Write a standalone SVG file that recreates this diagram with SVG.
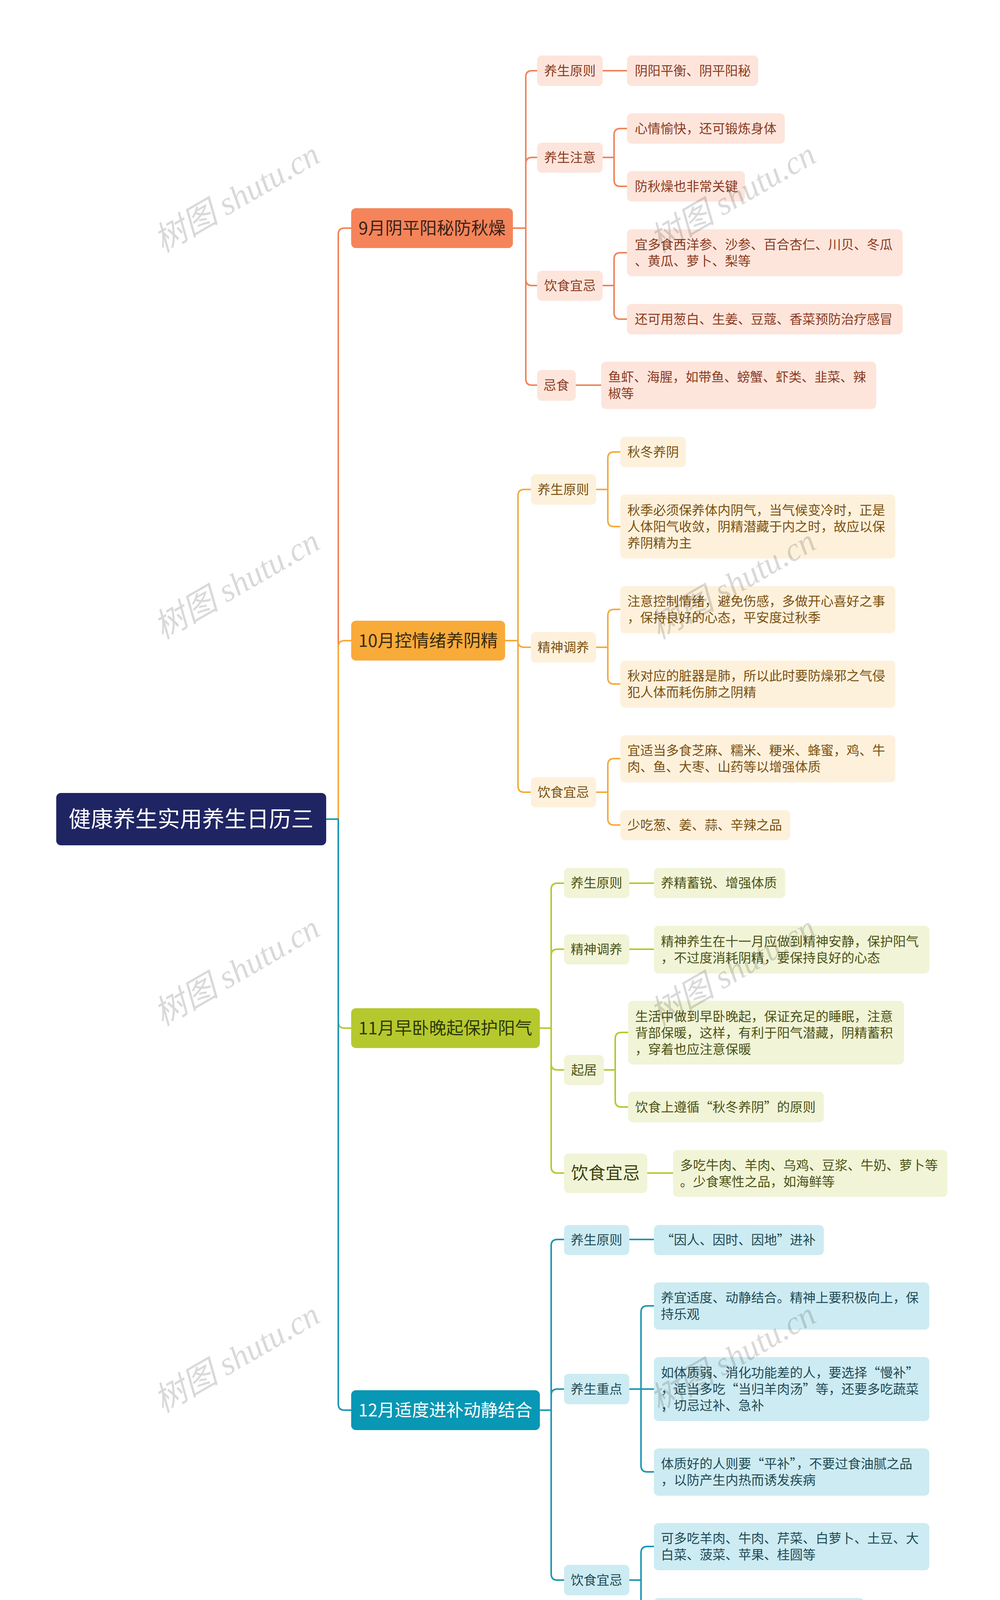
<svg xmlns="http://www.w3.org/2000/svg" width="2560" height="4311" viewBox="0 0 2560 4311">
<style>
text{font-family:"Noto Sans CJK SC","Noto Sans",sans-serif;}
.lf{font-size:33px;}
.lb{font-size:33px;text-anchor:middle;}
.mo{font-size:44px;}
.c{fill:none;stroke-width:4;}
.o{stroke:#F0845A}.y{stroke:#F5AB3A}.g{stroke:#B5C92E}.t{stroke:#1A97B4}
.wm{font-family:"Liberation Serif","Noto Sans CJK SC",serif;font-style:italic;font-size:84px;fill:#000;fill-opacity:0.15;}
</style>
<rect width="2560" height="4311" fill="#fff"/>
<g id="connectors">
<path class="c o" d="M835,2097 H866 V600 Q866,584 882,584 H899"/>
<path class="c y" d="M835,2097 H866 V1656 Q866,1640 882,1640 H899"/>
<path class="c g" d="M835,2097 H866 V2616 Q866,2632 882,2632 H899"/>
<path class="c t" d="M835,2097 H866 V3594 Q866,3610 882,3610 H899"/>
<path class="c o" d="M1313,584 H1346 V197 Q1346,181 1362,181 H1375"/>
<path class="c o" d="M1313,584 H1346 V419 Q1346,403 1362,403 H1375"/>
<path class="c o" d="M1313,584 H1346 V715 Q1346,731 1362,731 H1375"/>
<path class="c o" d="M1313,584 H1346 V970 Q1346,986 1362,986 H1375"/>
<path class="c o" d="M1543,181 H1605"/>
<path class="c o" d="M1543,403 H1572 V345 Q1572,329 1588,329 H1605"/>
<path class="c o" d="M1543,403 H1572 V461 Q1572,477 1588,477 H1605"/>
<path class="c o" d="M1543,731 H1572 V663 Q1572,647 1588,647 H1605"/>
<path class="c o" d="M1543,731 H1572 V801 Q1572,817 1588,817 H1605"/>
<path class="c o" d="M1474,986 H1539"/>
<path class="c y" d="M1293,1640 H1326 V1269 Q1326,1253 1342,1253 H1359"/>
<path class="c y" d="M1293,1640 H1326 V1641 Q1326,1657 1342,1657 H1359"/>
<path class="c y" d="M1293,1640 H1326 V2012 Q1326,2028 1342,2028 H1359"/>
<path class="c y" d="M1526,1253 H1556 V1173 Q1556,1157 1572,1157 H1588"/>
<path class="c y" d="M1526,1253 H1556 V1332 Q1556,1348 1572,1348 H1588"/>
<path class="c y" d="M1526,1657 H1556 V1576 Q1556,1560 1572,1560 H1588"/>
<path class="c y" d="M1526,1657 H1556 V1735 Q1556,1751 1572,1751 H1588"/>
<path class="c y" d="M1526,2028 H1556 V1958 Q1556,1942 1572,1942 H1588"/>
<path class="c y" d="M1526,2028 H1556 V2096 Q1556,2112 1572,2112 H1588"/>
<path class="c g" d="M1382,2632 H1411 V2277 Q1411,2261 1427,2261 H1444"/>
<path class="c g" d="M1382,2632 H1411 V2446 Q1411,2430 1427,2430 H1444"/>
<path class="c g" d="M1382,2632 H1411 V2723 Q1411,2739 1427,2739 H1444"/>
<path class="c g" d="M1382,2632 H1411 V2987 Q1411,3003 1427,3003 H1444"/>
<path class="c g" d="M1611,2261 H1674"/>
<path class="c g" d="M1611,2430 H1674"/>
<path class="c g" d="M1546,2739 H1575 V2659 Q1575,2643 1591,2643 H1608"/>
<path class="c g" d="M1546,2739 H1575 V2818 Q1575,2834 1591,2834 H1608"/>
<path class="c g" d="M1657,3003 H1723"/>
<path class="c t" d="M1382,3610 H1411 V3189 Q1411,3173 1427,3173 H1444"/>
<path class="c t" d="M1382,3610 H1411 V3572 Q1411,3556 1427,3556 H1444"/>
<path class="c t" d="M1382,3610 H1411 V4029 Q1411,4045 1427,4045 H1444"/>
<path class="c t" d="M1611,3173 H1674"/>
<path class="c t" d="M1611,3556 H1641 V3359 Q1641,3343 1657,3343 H1674"/>
<path class="c t" d="M1611,3556 H1674"/>
<path class="c t" d="M1611,3556 H1641 V3752 Q1641,3768 1657,3768 H1674"/>
<path class="c t" d="M1611,4045 H1641 V3975 Q1641,3959 1657,3959 H1674"/>
<path class="c t" d="M1611,4045 H1641 V4114 Q1641,4130 1657,4130 H1674"/>
</g>
<g id="root"><rect x="144" y="2030" width="691" height="134" rx="12" fill="#1F2563"/><text x="489" y="2117" font-size="57" fill="#fff" text-anchor="middle">健康养生实用养生日历三</text></g>
<g id="m9"><rect x="899" y="533" width="414" height="102" rx="12" fill="#F5845A"/><text class="mo" x="1106" y="600" text-anchor="middle" fill="#3a2218">9月阴平阳秘防秋燥</text></g>
<g id="m9a" fill="#FDE5DC"><rect x="1375" y="142" width="168" height="78" rx="12"/><text class="lb" x="1459" y="193" fill="#8B3A1E">养生原则</text></g>
<g id="m9a1"><rect x="1605" y="142" width="336" height="78" rx="12" fill="#FDE5DC"/><text class="lf" x="1625" y="193" fill="#8B3A1E">阴阳平衡、阴平阳秘</text></g>
<g id="m9b"><rect x="1375" y="365" width="168" height="77" rx="12" fill="#FDE5DC"/><text class="lb" x="1459" y="415" fill="#8B3A1E">养生注意</text></g>
<g id="m9b1"><rect x="1605" y="290" width="404" height="78" rx="12" fill="#FDE5DC"/><text class="lf" x="1625" y="341" fill="#8B3A1E">心情愉快，还可锻炼身体</text></g>
<g id="m9b2"><rect x="1605" y="438" width="302" height="78" rx="12" fill="#FDE5DC"/><text class="lf" x="1625" y="489" fill="#8B3A1E">防秋燥也非常关键</text></g>
<g id="m9c"><rect x="1375" y="693" width="168" height="77" rx="12" fill="#FDE5DC"/><text class="lb" x="1459" y="743" fill="#8B3A1E">饮食宜忌</text></g>
<g id="m9c1"><rect x="1605" y="587" width="706" height="120" rx="12" fill="#FDE5DC"/><text class="lf" x="1625" y="638" fill="#8B3A1E">宜多食西洋参、沙参、百合杏仁、川贝、冬瓜</text><text class="lf" x="1625" y="680" fill="#8B3A1E">、黄瓜、萝卜、梨等</text></g>
<g id="m9c2"><rect x="1605" y="778" width="706" height="78" rx="12" fill="#FDE5DC"/><text class="lf" x="1625" y="829" fill="#8B3A1E">还可用葱白、生姜、豆蔻、香菜预防治疗感冒</text></g>
<g id="m9d"><rect x="1375" y="947" width="99" height="79" rx="12" fill="#FDE5DC"/><text class="lb" x="1424" y="998" fill="#8B3A1E">忌食</text></g>
<g id="m9d1"><rect x="1539" y="926" width="704" height="121" rx="12" fill="#FDE5DC"/><text class="lf" x="1557" y="977" fill="#8B3A1E">鱼虾、海腥，如带鱼、螃蟹、虾类、韭菜、辣</text><text class="lf" x="1557" y="1019" fill="#8B3A1E">椒等</text></g>

<g id="m10"><rect x="899" y="1589" width="394" height="102" rx="12" fill="#F9AB3A"/><text class="mo" x="1096" y="1656" text-anchor="middle" fill="#3a2a10">10月控情绪养阴精</text></g>
<g id="m10a"><rect x="1359" y="1214" width="167" height="78" rx="12" fill="#FEF1DC"/><text class="lb" x="1442" y="1265" fill="#7A5010">养生原则</text></g>
<g id="m10a1"><rect x="1588" y="1118" width="168" height="78" rx="12" fill="#FEF1DC"/><text class="lf" x="1606" y="1169" fill="#7A5010">秋冬养阴</text></g>
<g id="m10a2"><rect x="1588" y="1266" width="704" height="164" rx="12" fill="#FEF1DC"/><text class="lf" x="1606" y="1318" fill="#7A5010">秋季必须保养体内阴气，当气候变冷时，正是</text><text class="lf" x="1606" y="1360" fill="#7A5010">人体阳气收敛，阴精潜藏于内之时，故应以保</text><text class="lf" x="1606" y="1402" fill="#7A5010">养阴精为主</text></g>
<g id="m10b"><rect x="1359" y="1618" width="167" height="78" rx="12" fill="#FEF1DC"/><text class="lb" x="1442" y="1669" fill="#7A5010">精神调养</text></g>
<g id="m10b1"><rect x="1588" y="1500" width="704" height="121" rx="12" fill="#FEF1DC"/><text class="lf" x="1606" y="1551" fill="#7A5010">注意控制情绪，避免伤感，多做开心喜好之事</text><text class="lf" x="1606" y="1593" fill="#7A5010">，保持良好的心态，平安度过秋季</text></g>
<g id="m10b2"><rect x="1588" y="1691" width="704" height="121" rx="12" fill="#FEF1DC"/><text class="lf" x="1606" y="1742" fill="#7A5010">秋对应的脏器是肺，所以此时要防燥邪之气侵</text><text class="lf" x="1606" y="1784" fill="#7A5010">犯人体而耗伤肺之阴精</text></g>
<g id="m10c"><rect x="1359" y="1989" width="167" height="78" rx="12" fill="#FEF1DC"/><text class="lb" x="1442" y="2040" fill="#7A5010">饮食宜忌</text></g>
<g id="m10c1"><rect x="1588" y="1882" width="704" height="121" rx="12" fill="#FEF1DC"/><text class="lf" x="1606" y="1933" fill="#7A5010">宜适当多食芝麻、糯米、粳米、蜂蜜，鸡、牛</text><text class="lf" x="1606" y="1975" fill="#7A5010">肉、鱼、大枣、山药等以增强体质</text></g>
<g id="m10c2"><rect x="1588" y="2074" width="435" height="77" rx="12" fill="#FEF1DC"/><text class="lf" x="1606" y="2124" fill="#7A5010">少吃葱、姜、蒜、辛辣之品</text></g>

<g id="m11"><rect x="899" y="2581" width="483" height="102" rx="12" fill="#B5C92E"/><text class="mo" x="1140" y="2648" text-anchor="middle" fill="#2f3a0a">11月早卧晚起保护阳气</text></g>
<g id="m11a"><rect x="1444" y="2222" width="167" height="77" rx="12" fill="#F1F4D6"/><text class="lb" x="1527" y="2272" fill="#4a5218">养生原则</text></g>
<g id="m11a1"><rect x="1674" y="2222" width="336" height="77" rx="12" fill="#F1F4D6"/><text class="lf" x="1692" y="2272" fill="#4a5218">养精蓄锐、增强体质</text></g>
<g id="m11b"><rect x="1444" y="2392" width="167" height="77" rx="12" fill="#F1F4D6"/><text class="lb" x="1527" y="2442" fill="#4a5218">精神调养</text></g>
<g id="m11b1"><rect x="1674" y="2370" width="705" height="122" rx="12" fill="#F1F4D6"/><text class="lf" x="1692" y="2422" fill="#4a5218">精神养生在十一月应做到精神安静，保护阳气</text><text class="lf" x="1692" y="2464" fill="#4a5218">，不过度消耗阴精，要保持良好的心态</text></g>
<g id="m11c"><rect x="1444" y="2701" width="102" height="77" rx="12" fill="#F1F4D6"/><text class="lb" x="1495" y="2751" fill="#4a5218">起居</text></g>
<g id="m11c1"><rect x="1608" y="2562" width="706" height="163" rx="12" fill="#F1F4D6"/><text class="lf" x="1626" y="2614" fill="#4a5218">生活中做到早卧晚起，保证充足的睡眠，注意</text><text class="lf" x="1626" y="2656" fill="#4a5218">背部保暖，这样，有利于阳气潜藏，阴精蓄积</text><text class="lf" x="1626" y="2698" fill="#4a5218">，穿着也应注意保暖</text></g>
<g id="m11c2"><rect x="1608" y="2795" width="501" height="78" rx="12" fill="#F1F4D6"/><text class="lf" x="1626" y="2846" fill="#4a5218">饮食上遵循“秋冬养阴”的原则</text></g>
<g id="m11d"><rect x="1444" y="2953" width="213" height="101" rx="12" fill="#F1F4D6"/><text x="1550" y="3019" font-size="44" text-anchor="middle" fill="#3a4210">饮食宜忌</text></g>
<g id="m11d1"><rect x="1723" y="2944" width="702" height="120" rx="12" fill="#F1F4D6"/><text class="lf" x="1741" y="2995" fill="#4a5218">多吃牛肉、羊肉、乌鸡、豆浆、牛奶、萝卜等</text><text class="lf" x="1741" y="3037" fill="#4a5218">。少食寒性之品，如海鲜等</text></g>

<g id="m12"><rect x="899" y="3559" width="483" height="102" rx="12" fill="#0897B4"/><text class="mo" x="1140" y="3626" text-anchor="middle" fill="#fff">12月适度进补动静结合</text></g>
<g id="m12a"><rect x="1444" y="3136" width="167" height="77" rx="12" fill="#CDEBF2"/><text class="lb" x="1527" y="3186" fill="#1f4a55">养生原则</text></g>
<g id="m12a1"><rect x="1674" y="3136" width="435" height="77" rx="12" fill="#CDEBF2"/><text class="lf" x="1692" y="3186" fill="#1f4a55">“因人、因时、因地”进补</text></g>
<g id="m12b"><rect x="1444" y="3517" width="167" height="78" rx="12" fill="#CDEBF2"/><text class="lb" x="1527" y="3568" fill="#1f4a55">养生重点</text></g>
<g id="m12b1"><rect x="1674" y="3283" width="705" height="121" rx="12" fill="#CDEBF2"/><text class="lf" x="1692" y="3334" fill="#1f4a55">养宜适度、动静结合。精神上要积极向上，保</text><text class="lf" x="1692" y="3376" fill="#1f4a55">持乐观</text></g>
<g id="m12b2"><rect x="1674" y="3474" width="705" height="164" rx="12" fill="#CDEBF2"/><text class="lf" x="1692" y="3526" fill="#1f4a55">如体质弱、消化功能差的人，要选择“慢补”</text><text class="lf" x="1692" y="3568" fill="#1f4a55">，适当多吃“当归羊肉汤”等，还要多吃蔬菜</text><text class="lf" x="1692" y="3610" fill="#1f4a55">，切忌过补、急补</text></g>
<g id="m12b3"><rect x="1674" y="3708" width="705" height="121" rx="12" fill="#CDEBF2"/><text class="lf" x="1692" y="3759" fill="#1f4a55">体质好的人则要“平补”，不要过食油腻之品</text><text class="lf" x="1692" y="3801" fill="#1f4a55">，以防产生内热而诱发疾病</text></g>
<g id="m12c"><rect x="1444" y="4006" width="167" height="78" rx="12" fill="#CDEBF2"/><text class="lb" x="1527" y="4057" fill="#1f4a55">饮食宜忌</text></g>
<g id="m12c1"><rect x="1674" y="3899" width="705" height="121" rx="12" fill="#CDEBF2"/><text class="lf" x="1692" y="3950" fill="#1f4a55">可多吃羊肉、牛肉、芹菜、白萝卜、土豆、大</text><text class="lf" x="1692" y="3992" fill="#1f4a55">白菜、菠菜、苹果、桂圆等</text></g>
<g id="m12c2"><rect x="1674" y="4091" width="538" height="78" rx="12" fill="#CDEBF2"/><text class="lf" x="1692" y="4142" fill="#1f4a55">忌生冷，如海鲜等大寒之品及冷饮</text></g>

<g id="watermarks">
<text class="wm" transform="translate(620,530) rotate(-30)" text-anchor="middle">树图 shutu.cn</text>
<text class="wm" transform="translate(1890,530) rotate(-30)" text-anchor="middle">树图 shutu.cn</text>
<text class="wm" transform="translate(620,1520) rotate(-30)" text-anchor="middle">树图 shutu.cn</text>
<text class="wm" transform="translate(1890,1520) rotate(-30)" text-anchor="middle">树图 shutu.cn</text>
<text class="wm" transform="translate(620,2510) rotate(-30)" text-anchor="middle">树图 shutu.cn</text>
<text class="wm" transform="translate(1890,2510) rotate(-30)" text-anchor="middle">树图 shutu.cn</text>
<text class="wm" transform="translate(620,3500) rotate(-30)" text-anchor="middle">树图 shutu.cn</text>
<text class="wm" transform="translate(1890,3500) rotate(-30)" text-anchor="middle">树图 shutu.cn</text>
</g>
</svg>
